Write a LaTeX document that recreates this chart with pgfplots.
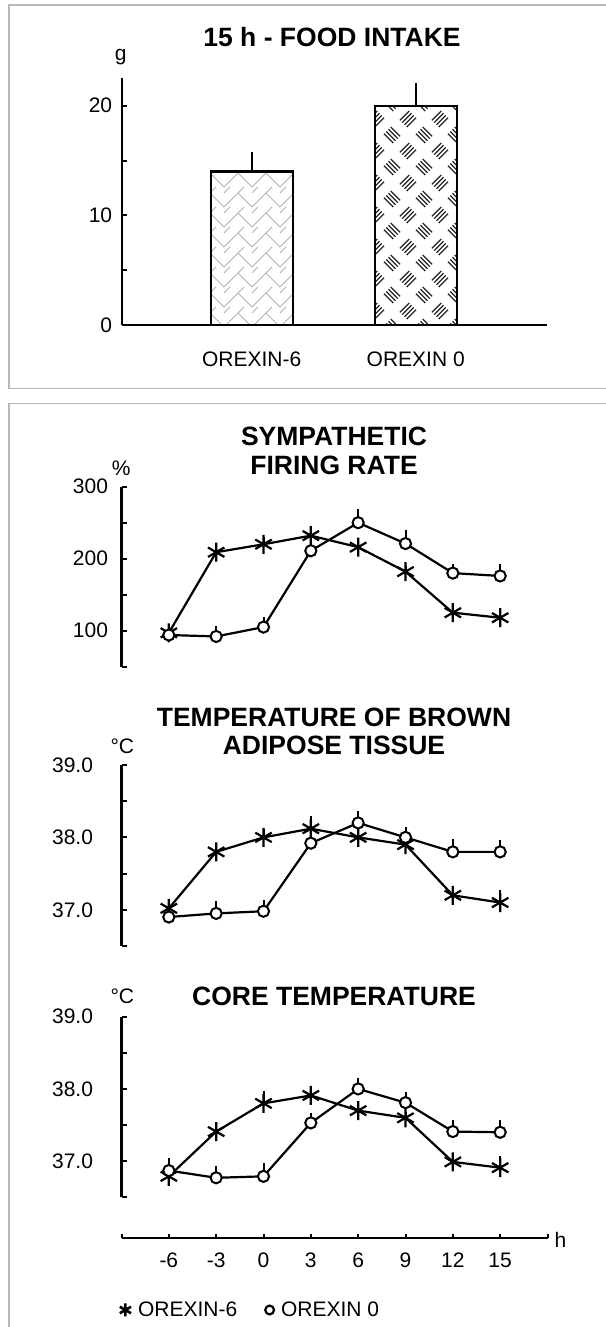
\documentclass[border=0pt]{standalone}
\usepackage{fontspec}
\setmainfont{Liberation Sans}
\usepackage{pgfplots}
\pgfplotsset{compat=1.18}
\usetikzlibrary{patterns}

\newcommand\tickfont{\fontsize{21}{25}\selectfont}
\newcommand\labfont{\fontsize{21}{25}\selectfont}
\newcommand\titfont{\fontsize{26.5}{30}\selectfont\bfseries}

% herringbone (grey) pattern
\pgfdeclarepatternformonly{herring}{\pgfqpoint{-1pt}{-1pt}}{\pgfqpoint{29pt}{21pt}}{\pgfqpoint{28pt}{20pt}}{%
  \pgfsetlinewidth{0.75pt}%
  \pgfpathmoveto{\pgfqpoint{0pt}{0pt}}\pgfpathlineto{\pgfqpoint{14pt}{14pt}}\pgfpathlineto{\pgfqpoint{28pt}{0pt}}%
  \pgfpathmoveto{\pgfqpoint{14pt}{14pt}}\pgfpathlineto{\pgfqpoint{20pt}{20pt}}%
  \pgfpathmoveto{\pgfqpoint{0pt}{14pt}}\pgfpathlineto{\pgfqpoint{6pt}{20pt}}%
  \pgfusepath{stroke}}

% checker plate pattern
\pgfdeclarepatternformonly{plate}{\pgfqpoint{-1pt}{-1pt}}{\pgfqpoint{33pt}{33pt}}{\pgfqpoint{32pt}{32pt}}{%
  \pgfsetlinewidth{1.3pt}%
  \pgfpathmoveto{\pgfqpoint{-0.06pt}{9.28pt}}\pgfpathlineto{\pgfqpoint{9.28pt}{-0.06pt}}%
  \pgfpathmoveto{\pgfqpoint{2.20pt}{11.54pt}}\pgfpathlineto{\pgfqpoint{11.54pt}{2.20pt}}%
  \pgfpathmoveto{\pgfqpoint{4.46pt}{13.80pt}}\pgfpathlineto{\pgfqpoint{13.80pt}{4.46pt}}%
  \pgfpathmoveto{\pgfqpoint{6.72pt}{16.06pt}}\pgfpathlineto{\pgfqpoint{16.06pt}{6.72pt}}%
  \pgfpathmoveto{\pgfqpoint{15.94pt}{22.72pt}}\pgfpathlineto{\pgfqpoint{25.28pt}{32.06pt}}%
  \pgfpathmoveto{\pgfqpoint{18.20pt}{20.46pt}}\pgfpathlineto{\pgfqpoint{27.54pt}{29.80pt}}%
  \pgfpathmoveto{\pgfqpoint{20.46pt}{18.20pt}}\pgfpathlineto{\pgfqpoint{29.80pt}{27.54pt}}%
  \pgfpathmoveto{\pgfqpoint{22.72pt}{15.94pt}}\pgfpathlineto{\pgfqpoint{32.06pt}{25.28pt}}%
  \pgfusepath{stroke}}

\pgfplotsset{
  panel/.style={scale only axis, width=426pt, xmin=-9, xmax=18,
    axis x line=none, axis y line=left,
    axis line style={line width=2.2pt,-},
    tick style={line width=2pt, black}, tick align=inside,
    major tick length=5pt, minor tick length=5pt,
    yticklabel style={font=\tickfont, xshift=-10pt}, clip=false},
  ast/.style={black, line width=2.2pt, mark=asterisk, mark size=9.5pt,
    mark options={line width=2.2pt},
    error bars/.cd, y dir=plus, y explicit, error mark=none,
    error bar style={line width=2pt}},
  circ/.style={black, line width=2.2pt, mark=*, mark size=5.6pt,
    mark options={fill=white, draw=black, line width=2pt},
    error bars/.cd, y dir=plus, y explicit, error mark=none,
    error bar style={line width=2pt}},
}

\begin{document}
\begin{tikzpicture}
\path[use as bounding box] (0pt,0pt) rectangle (605pt,1327pt);
% panel frames
\draw[black!28, line width=1.3pt] (612pt,1322pt) -- (9pt,1322pt) -- (9pt,938.7pt) -- (612pt,938.7pt);
\draw[black!28, line width=1.3pt] (612pt,923.5pt) -- (9pt,923.5pt) -- (9pt,-5pt);

% ---------- food intake bar chart ----------
\begin{axis}[at={(121.7pt,1002pt)}, anchor=south west, scale only axis,
  width=425pt, height=246.7pt, xmin=0.207, xmax=2.799, ymin=0, ymax=22.5,
  axis x line=bottom, axis y line=left, axis line style={line width=2.2pt,-},
  tick style={line width=2pt, black}, tick align=inside,
  major tick length=5pt, minor tick length=5pt,
  xtick={1,2}, xticklabels={OREXIN-6,OREXIN 0},
  xticklabel style={font=\labfont, yshift=-23pt},
  x tick style={draw=none},
  ytick={0,10,20}, yticklabels={0,10,20}, minor ytick={5,15},
  yticklabel style={font=\tickfont, xshift=-6pt}, clip=false]
\addplot[ybar, bar width=0.5, bar shift=0pt, draw=black, line width=2.2pt,
  pattern=herring, pattern color=black!30,
  error bars/.cd, y dir=plus, y explicit, error mark=none,
  error bar style={line width=2pt}]
  coordinates {(1,14.0) +- (0,1.75)};
\addplot[ybar, bar width=0.5, bar shift=0pt, draw=black, line width=2.2pt,
  pattern=plate, pattern color=black!85,
  error bars/.cd, y dir=plus, y explicit, error mark=none,
  error bar style={line width=2pt}]
  coordinates {(2,20.0) +- (0,2.05)};
\end{axis}

% ---------- sympathetic firing rate ----------
\begin{axis}[panel, at={(121.5pt,660.3pt)}, anchor=south west, height=180pt,
  ymin=50, ymax=300, ytick={100,200,300}, yticklabels={100,200,300},
  minor ytick={50,150,250}]
\addplot[ast] coordinates {(-6,97) +- (0,6) (-3,209) +- (0,8) (0,220) +- (0,10) (3,232) +- (0,14)
  (6,216) +- (0,8) (9,182) +- (0,8) (12,125) +- (0,12) (15,118) +- (0,10)};
\addplot[circ] coordinates {(-6,94) +- (0,5) (-3,92) +- (0,15) (0,105) +- (0,14) (3,211) +- (0,10)
  (6,250) +- (0,19) (9,221) +- (0,19) (12,180) +- (0,13) (15,176) +- (0,17)};
\end{axis}

% ---------- brown adipose tissue temperature ----------
\begin{axis}[panel, at={(121.5pt,381pt)}, anchor=south west, height=181pt,
  ymin=36.5, ymax=39, ytick={37,38,39}, yticklabels={37.0,38.0,39.0},
  minor ytick={36.5,37.5,38.5}, yticklabel style={xshift=-15pt}]
\addplot[ast] coordinates {(-6,37.02) +- (0,0.07) (-3,37.8) +- (0,0.08) (0,38.0) +- (0,0.12) (3,38.12) +- (0,0.18)
  (6,38.0) +- (0,0.1) (9,37.9) +- (0,0.08) (12,37.2) +- (0,0.1) (15,37.1) +- (0,0.18)};
\addplot[circ] coordinates {(-6,36.9) +- (0,0.05) (-3,36.95) +- (0,0.17) (0,36.98) +- (0,0.16) (3,37.92) +- (0,0.08)
  (6,38.2) +- (0,0.16) (9,38.0) +- (0,0.15) (12,37.8) +- (0,0.18) (15,37.8) +- (0,0.16)};
\end{axis}

% ---------- core temperature ----------
\begin{axis}[panel, at={(121.5pt,129.7pt)}, anchor=south west, height=180.6pt,
  ymin=36.5, ymax=39, ytick={37,38,39}, yticklabels={37.0,38.0,39.0},
  minor ytick={36.5,37.5,38.5}, yticklabel style={xshift=-15pt}]
\addplot[ast] coordinates {(-6,36.79) +- (0,0.1) (-3,37.41) +- (0,0.1) (0,37.8) +- (0,0.17) (3,37.91) +- (0,0.1)
  (6,37.7) +- (0,0.1) (9,37.6) +- (0,0.08) (12,36.99) +- (0,0.1) (15,36.91) +- (0,0.16)};
\addplot[circ] coordinates {(-6,36.87) +- (0,0.18) (-3,36.77) +- (0,0.16) (0,36.79) +- (0,0.18) (3,37.53) +- (0,0.14)
  (6,38.0) +- (0,0.15) (9,37.81) +- (0,0.15) (12,37.41) +- (0,0.16) (15,37.4) +- (0,0.17)};
\end{axis}

% ---------- common time axis + legend ----------
\begin{axis}[at={(121.5pt,89pt)}, anchor=south west, scale only axis,
  width=426pt, height=20pt, xmin=-9, xmax=18, ymin=0, ymax=1,
  axis y line=none, axis x line=bottom, axis line style={line width=2.2pt,-},
  tick style={line width=2pt, black}, tick align=inside, major tick length=4pt,
  xtick={-9,-6,-3,0,3,6,9,12,15,18}, xticklabels={,-6,-3,0,3,6,9,12,15,},
  xticklabel style={font=\tickfont, anchor=base, yshift=-29.5pt}, clip=false,
  legend columns=2,
  legend style={draw=none, fill=none, inner sep=0pt, outer sep=0pt, font=\labfont,
    at={(axis description cs:-0.004,-3.6)}, anchor=west,
    /tikz/every odd column/.append style={column sep=5pt},
    /tikz/every even column/.append style={column sep=26pt}},
  legend cell align=left,
  legend image code/.code={\draw[#1] plot coordinates {(0pt,0pt)};}]
\addlegendimage{only marks, black, line width=2.6pt, mark=asterisk, mark size=6.5pt}
\addlegendentry{OREXIN-6}
\addlegendimage{only marks, black, line width=2.2pt, mark=o, mark size=4.4pt}
\addlegendentry{OREXIN 0}
\end{axis}

% ---------- titles and unit labels ----------
\node[font=\titfont] at (332pt,1290pt) {15 h - FOOD INTAKE};
\node[font=\titfont] at (334pt,890.3pt) {SYMPATHETIC};
\node[font=\titfont] at (334pt,862pt) {FIRING RATE};
\node[font=\titfont] at (334pt,610pt) {TEMPERATURE OF BROWN};
\node[font=\titfont] at (334pt,582pt) {ADIPOSE TISSUE};
\node[font=\titfont] at (334pt,331pt) {CORE TEMPERATURE};
\node[font=\tickfont] at (120.7pt,1270.3pt) {g};
\node[font=\tickfont] at (121.3pt,858.7pt) {\%};
\node[font=\tickfont] at (122.3pt,580.3pt) {°C};
\node[font=\tickfont] at (122.3pt,330.3pt) {°C};
\node[font=\tickfont] at (560.5pt,87pt) {h};
\end{tikzpicture}
\end{document}
